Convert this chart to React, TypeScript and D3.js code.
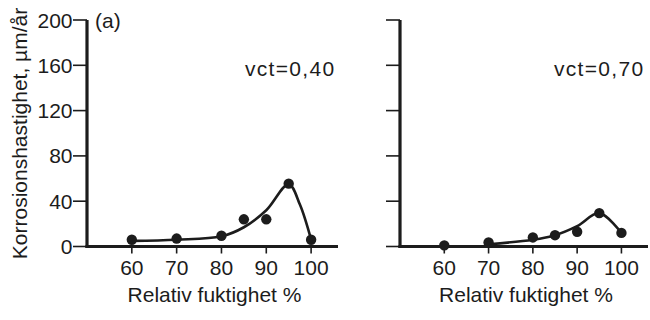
import React from "react";
import * as d3 from "d3";

// ---- data ----
const xTicks = [60, 70, 80, 90, 100];
const yTicks = [0, 40, 80, 120, 160, 200];

// Panel (a): vct = 0,40 — measured points
const rhA = [60, 70, 80, 85, 90, 95, 100];
const rateA = [6, 7, 9.5, 24, 24, 55.5, 6];
// fitted curve (a)
const curveRhA = [60, 70, 80, 85, 90, 95, 97.5, 100];
const curveRateA = [5, 6, 9, 17, 32, 55, 37, 6];

// Panel (b): vct = 0,70 — measured points
const rhB = [60, 70, 80, 85, 90, 95, 100];
const rateB = [1, 3.5, 8, 10, 13, 29.5, 12];
// fitted curve (b)
const curveRhB = [70, 80, 85, 90, 95, 100];
const curveRateB = [2, 6, 10, 18, 29.5, 12];

const labelA = "vct=0,40";
const labelB = "vct=0,70";
const xTitle = "Relativ fuktighet %";
const yTitle = "Korrosionshastighet, µm/år";

const FONT = "'Liberation Sans', Arial, Helvetica, sans-serif";
const INK = "#1c1c1c";

type PanelProps = {
  x0: number;
  x1: number;
  rh: number[];
  rate: number[];
  crh: number[];
  crate: number[];
  label: string;
  labelX: number;
  showYLabels: boolean;
  tag?: string;
};

function Panel({ x0, x1, rh, rate, crh, crate, label, labelX, showYLabels, tag }: PanelProps) {
  const x = d3.scaleLinear().domain([50, 106]).range([x0, x1]);
  const y = d3.scaleLinear().domain([0, 200]).range([246.5, 20]);
  const line = d3
    .line<[number, number]>()
    .x((d) => x(d[0]))
    .y((d) => y(d[1]))
    .curve(d3.curveCatmullRom.alpha(0.5));
  const cpts: [number, number][] = crh.map((v, i) => [v, crate[i]]);
  return (
    <g>
      {/* y ticks */}
      {yTicks.map((t) => (
        <g key={"y" + t}>
          <line x1={x0 - 14} x2={x0} y1={y(t)} y2={y(t)} stroke={INK} strokeWidth={1.6} />
          {showYLabels && (
            <text
              x={x0 - 14.5}
              y={y(t)}
              dy="0.36em"
              textAnchor="end"
              fontSize={21}
              fontFamily={FONT}
              fill={INK}
            >
              {t}
            </text>
          )}
        </g>
      ))}
      {/* x ticks */}
      {xTicks.map((t) => (
        <g key={"x" + t}>
          <line x1={x(t)} x2={x(t)} y1={y(0)} y2={y(0) + 7} stroke={INK} strokeWidth={1.6} />
          <text
            x={x(t)}
            y={275}
            textAnchor="middle"
            fontSize={21}
            fontFamily={FONT}
            fill={INK}
          >
            {t}
          </text>
        </g>
      ))}
      {/* axes */}
      <line x1={x0} x2={x0} y1={y(200)} y2={y(0) + 1.5} stroke={INK} strokeWidth={3.2} />
      <line x1={x0 - 1.5} x2={x1} y1={y(0)} y2={y(0)} stroke={INK} strokeWidth={3.2} />
      {/* curve */}
      <path d={line(cpts) || ""} fill="none" stroke={INK} strokeWidth={2.6} />
      {/* points */}
      {rh.map((v, i) => (
        <circle key={"p" + i} cx={x(v)} cy={y(rate[i])} r={5.2} fill={INK} />
      ))}
      <text
        x={labelX}
        y={75.5}
        fontSize={21}
        letterSpacing={1.3}
        fontFamily={FONT}
        fill={INK}
      >
        {label}
      </text>
      <text
        x={(x0 + x1) / 2 + 2}
        y={301.5}
        textAnchor="middle"
        fontSize={21}
        fontFamily={FONT}
        fill={INK}
      >
        {xTitle}
      </text>
      {tag && (
        <text x={x0 + 8} y={28} fontSize={21} fontFamily={FONT} fill={INK}>
          {tag}
        </text>
      )}
    </g>
  );
}

export default function App() {
  return (
    <svg
      width={650}
      height={320}
      viewBox="0 0 650 320"
      style={{ position: "absolute", left: 0, top: 0, background: "#fff" }}
    >
      <rect width={650} height={320} fill="#fff" />
      <Panel
        x0={87}
        x1={338}
        rh={rhA}
        rate={rateA}
        crh={curveRhA}
        crate={curveRateA}
        label={labelA}
        labelX={245}
        showYLabels={true}
        tag="(a)"
      />
      <Panel
        x0={400}
        x1={648}
        rh={rhB}
        rate={rateB}
        crh={curveRhB}
        crate={curveRateB}
        label={labelB}
        labelX={554}
        showYLabels={false}
      />
      <text
        transform="translate(27,133.5) rotate(-90)"
        textAnchor="middle"
        fontSize={21}
        fontFamily={FONT}
        fill={INK}
      >
        {yTitle}
      </text>
    </svg>
  );
}
